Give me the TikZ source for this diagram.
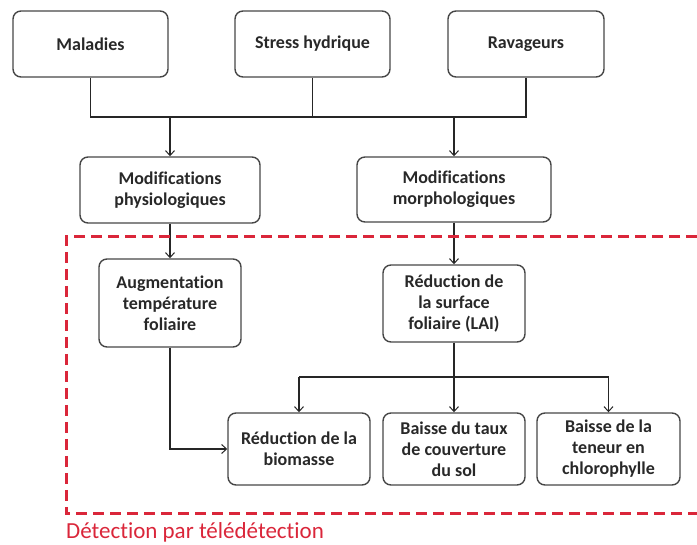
\documentclass[tikz,border=0pt]{standalone}
\usepackage{fontspec}
\setmainfont[Ligatures=NoCommon]{Carlito}
\usetikzlibrary{arrows.meta}
\definecolor{boxgray}{RGB}{70,70,70}
\definecolor{txtgray}{RGB}{40,40,40}
\definecolor{dashred}{RGB}{218,38,58}
\begin{document}
\begin{tikzpicture}[x=1pt,y=-1pt,
  box/.style={draw=boxgray,line width=1.4pt,rounded corners=8pt,align=center,
    font=\fontsize{18}{21}\selectfont\bfseries,text=txtgray,inner sep=0pt},
  conn/.style={line width=1.4pt,draw=black!85},
  arr/.style={conn,-{Straight Barb[length=5pt,width=9pt,line width=1pt]}},
  reddash/.style={draw=dashred,line width=3pt,dash pattern=on 11pt off 6pt},
]
\useasboundingbox (0,0) rectangle (697,545);
% top row
\node[box,minimum width=155pt,minimum height=66pt] (mal) at (90.5,44) {Maladies};
\node[box,minimum width=155pt,minimum height=66pt] (str) at (312.5,44) {Stress hydrique};
\node[box,minimum width=156pt,minimum height=66pt] (rav) at (526,44) {Ravageurs};
% second row
\node[box,minimum width=180pt,minimum height=66pt] (phy) at (170,190) {Modifications\\physiologiques};
\node[box,minimum width=194pt,minimum height=65pt] (mor) at (454,189.5) {Modifications\\morphologiques};
% third row
\node[box,minimum width=142pt,minimum height=88pt] (aug) at (170,303) {Augmentation\\température\\foliaire};
\node[box,minimum width=142pt,minimum height=77pt] (red) at (454,303.5) {Réduction de\\la surface\\foliaire (LAI)};
% bottom row
\node[box,minimum width=142pt,minimum height=72pt] (bio) at (299,449) {Réduction de la\\biomasse};
\node[box,minimum width=142pt,minimum height=72pt] (cou) at (454,449) {Baisse du taux\\de couverture\\du sol};
\node[box,minimum width=143pt,minimum height=72pt] (chl) at (608.5,449) {Baisse de la\\teneur en\\chlorophylle};
% bus lines
\coordinate (bus) at (0,117);
\coordinate (bustwo) at (0,377);
\draw[conn] (mal.south) -- (mal.south|-bus) -- (rav.south|-bus) -- (rav.south);
\draw[conn] (str.south) -- (str.south|-bus);
\draw[arr] (phy.north|-bus) -- (phy.north);
\draw[arr] (mor.north|-bus) -- (mor.north);
\draw[arr] (phy.south) -- (aug.north);
\draw[arr] (mor.south) -- (red.north);
\draw[arr] (aug.south) |- (bio.west);
\draw[arr] (red.south) -- (cou.north);
\draw[conn] (bio.north|-bustwo) -- (chl.north|-bustwo);
\draw[arr] (bio.north|-bustwo) -- (bio.north);
\draw[arr] (chl.north|-bustwo) -- (chl.north);
% detection frame
\coordinate (fa) at (697,237);
\coordinate (fb) at (66,237);
\coordinate (fc) at (66,514);
\coordinate (fd) at (697,514);
\draw[reddash] (fa) -- (fb) -- (fc) -- (fd);
\node[anchor=base west,inner sep=0pt,text=dashred,font=\fontsize{23}{26}\selectfont] (lbl) at (66,539) {Détection par télédétection};
\end{tikzpicture}
\end{document}
